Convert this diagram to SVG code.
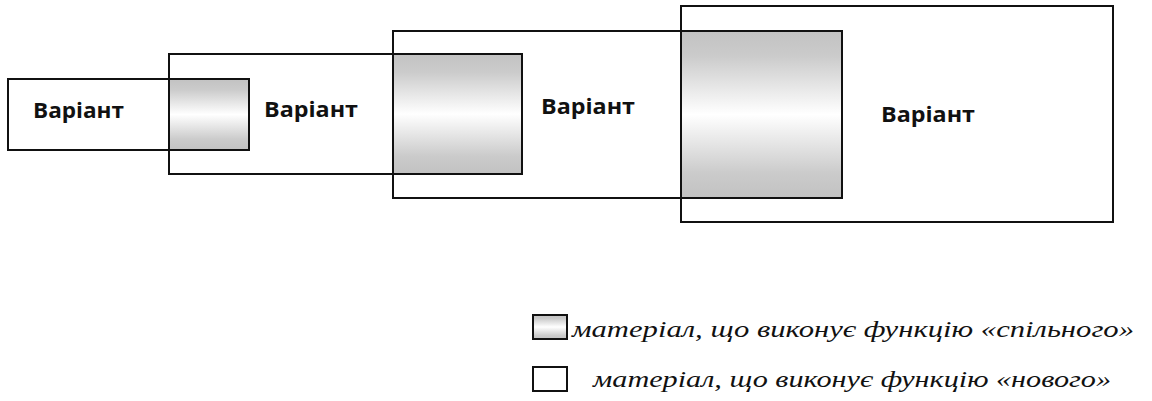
<svg xmlns="http://www.w3.org/2000/svg" width="1152" height="401" viewBox="0 0 1152 401">
  <defs>
    <!-- grey-white-grey vertical shading for "shared" material -->
    <linearGradient id="shade" x1="0" y1="0" x2="0" y2="1">
      <stop offset="0" stop-color="#c2c2c2"/>
      <stop offset="0.15" stop-color="#cbcbcb"/>
      <stop offset="0.5" stop-color="#ffffff"/>
      <stop offset="0.85" stop-color="#cbcbcb"/>
      <stop offset="1" stop-color="#c2c2c2"/>
    </linearGradient>
  </defs>
  <style>
    .frame { fill: #ffffff; stroke: #111111; stroke-width: 2; }
    .shared { fill: url(#shade); stroke: #111111; stroke-width: 2; }
    .label { font-family: "Open Sans", "Liberation Sans", sans-serif; font-weight: bold; font-size: 22px; fill: #111111; }
    .legend { font-family: "Liberation Serif", "DejaVu Serif", serif; font-style: italic; font-size: 24px; fill: #111111; }
  </style>

  <rect width="1152" height="401" fill="#ffffff"/>

  <!-- variant frames (new material) -->
  <g id="variant-1">
    <rect class="frame" x="8" y="79" width="161" height="71"/>
    <text class="label" x="33" y="118" textLength="91" lengthAdjust="spacingAndGlyphs">Варіант</text>
  </g>
  <g id="variant-2">
    <rect class="frame" x="169" y="54" width="224" height="120"/>
    <text class="label" x="264" y="117" textLength="94" lengthAdjust="spacingAndGlyphs">Варіант</text>
  </g>
  <g id="variant-3">
    <rect class="frame" x="393" y="31" width="288" height="167"/>
    <text class="label" x="541" y="114" textLength="94" lengthAdjust="spacingAndGlyphs">Варіант</text>
  </g>
  <g id="variant-4">
    <rect class="frame" x="681" y="6" width="432" height="216"/>
    <text class="label" x="881" y="122" textLength="94" lengthAdjust="spacingAndGlyphs">Варіант</text>
  </g>

  <!-- shared material blocks carried over from the previous variant -->
  <g id="shared-1">
    <rect class="shared" x="169" y="79" width="80" height="71"/>
  </g>
  <g id="shared-2">
    <rect class="shared" x="393" y="54" width="129" height="120"/>
  </g>
  <g id="shared-3">
    <rect class="shared" x="681" y="31" width="161" height="167"/>
  </g>

  <!-- legend -->
  <g id="legend-shared">
    <rect class="shared" x="533" y="315" width="34" height="24"/>
    <text class="legend" x="572" y="337" textLength="562" lengthAdjust="spacingAndGlyphs">матеріал, що виконує функцію «спільного»</text>
  </g>
  <g id="legend-new">
    <rect class="frame" x="533" y="367" width="34" height="24"/>
    <text class="legend" x="593" y="387" textLength="518" lengthAdjust="spacingAndGlyphs">матеріал, що виконує функцію «нового»</text>
  </g>

  <g id="connectors"/>
</svg>
